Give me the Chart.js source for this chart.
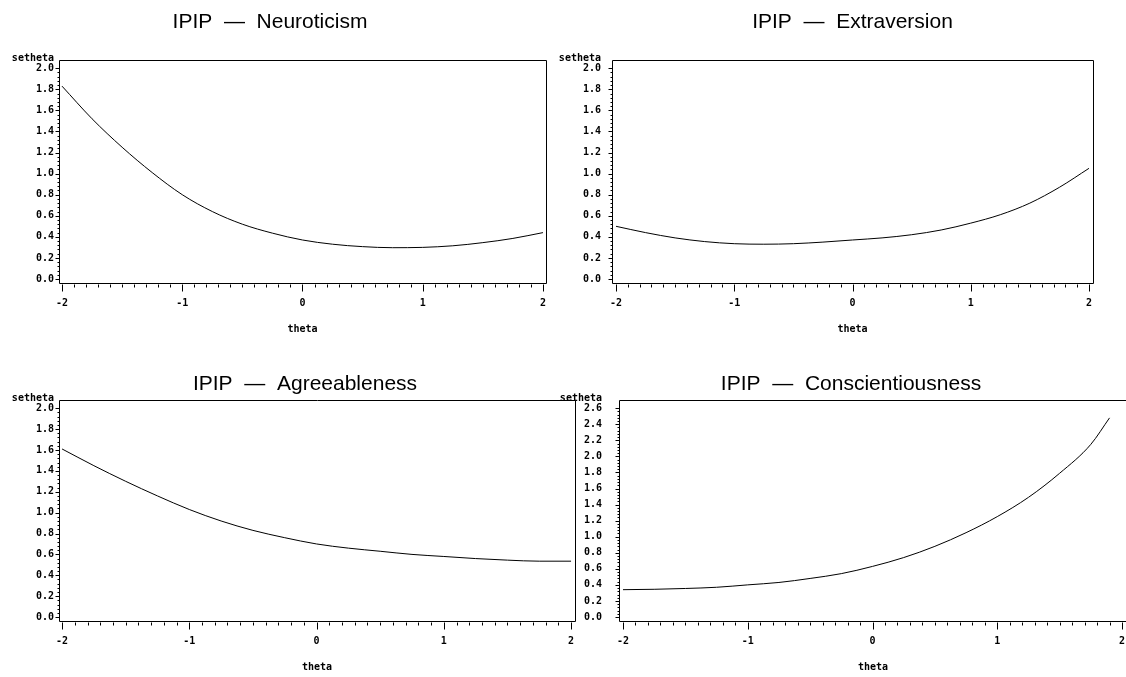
<!DOCTYPE html>
<html>
<head>
<meta charset="utf-8">
<script src="https://cdn.jsdelivr.net/npm/chart.js@4"></script>
<style>
  html, body { margin: 0; padding: 0; width: 1126px; height: 677px; overflow: hidden; background: #fff; }
  canvas { position: absolute; }
</style>
</head>
<body>
<canvas id="c1" width="560" height="345" style="left:-8px;top:0px"></canvas>
<canvas id="c2" width="600" height="345" style="left:550px;top:0px"></canvas>
<canvas id="c3" width="600" height="332" style="left:0px;top:345px"></canvas>
<canvas id="c4" width="580" height="332" style="left:560px;top:345px"></canvas>
<script>
// theta grid
let theta = [-2, -1.75, -1.5, -1.25, -1, -0.75, -0.5, -0.25, 0, 0.25, 0.5, 0.75, 1, 1.25, 1.5, 1.75, 2];
let neuroticism = [1.83, 1.52, 1.25, 1.01, 0.80, 0.64, 0.52, 0.435, 0.37, 0.33, 0.307, 0.297, 0.30, 0.315, 0.345, 0.385, 0.44];
let extraversion = [0.50, 0.44, 0.39, 0.355, 0.335, 0.33, 0.335, 0.35, 0.37, 0.39, 0.42, 0.465, 0.53, 0.61, 0.72, 0.87, 1.05];
let agreeableness = [1.61, 1.45, 1.30, 1.16, 1.03, 0.92, 0.83, 0.76, 0.70, 0.66, 0.63, 0.60, 0.58, 0.56, 0.545, 0.535, 0.535];
let thetaC = [-2, -1.75, -1.5, -1.25, -1, -0.75, -0.5, -0.25, 0, 0.25, 0.5, 0.75, 1, 1.25, 1.5, 1.75, 1.9];
let conscientiousness = [0.34, 0.345, 0.355, 0.37, 0.40, 0.43, 0.48, 0.54, 0.63, 0.74, 0.88, 1.05, 1.25, 1.49, 1.79, 2.15, 2.48];

let thetaTicks = [-2, -1, 0, 1, 2];
let seTicks = [0, 0.2, 0.4, 0.6, 0.8, 1.0, 1.2, 1.4, 1.6, 1.8, 2.0];
let seTicksC = [0, 0.2, 0.4, 0.6, 0.8, 1.0, 1.2, 1.4, 1.6, 1.8, 2.0, 2.2, 2.4, 2.6];

let tickFont = { family: 'DejaVu Sans Mono', size: 10, weight: 'bold' };

// box round the plot, SAS style tick marks and the y label on top
const framePlugin = {
  id: 'frame',
  afterDraw(chart, args, opts) {
    let ctx = chart.ctx;
    let a = chart.chartArea;
    let x = chart.scales.x;
    let y = chart.scales.y;
    let left = Math.round(a.left) + 0.5;
    let top = Math.round(a.top) + 0.5;
    let right = Math.round(a.right) + 0.5;
    let bottom = Math.round(a.bottom) + 0.5;
    ctx.save();
    ctx.strokeStyle = '#000';
    ctx.lineWidth = 1;
    ctx.beginPath();
    ctx.rect(left, top, right - left, bottom - top);
    for (let i = 0; i <= 40; i++) {
      let px = Math.round(x.getPixelForValue(-2 + i * 0.1)) + 0.5;
      let len = i % 10 === 0 ? 7 : 3;
      ctx.moveTo(px, bottom + 1);
      ctx.lineTo(px, bottom + 1 + len);
    }
    let n = Math.round(opts.yTop / 0.04);
    for (let i = 0; i <= n; i++) {
      let py = Math.round(y.getPixelForValue(i * 0.04)) + 0.5;
      let len = i % 5 === 0 ? 4 : 2;
      ctx.moveTo(left, py);
      ctx.lineTo(left - len, py);
    }
    ctx.stroke();
    ctx.fillStyle = '#000';
    ctx.font = 'bold 10px "DejaVu Sans Mono"';
    ctx.textAlign = 'right';
    ctx.textBaseline = 'bottom';
    ctx.fillText(opts.yLabel, a.left - opts.gap, a.top + 3);
    ctx.restore();
  }
};

// c: canvas left and width, frame edges and title centre in page pixels
// (titleX null = title centred over the frame)
function makeChart(id, title, xs, ys, c) {
  let points = xs.map((v, i) => ({ x: v, y: ys[i] }));
  let padLeft = c.titleX == null ? 0 : 2 * c.titleX - c.left - c.frameRight;
  let yWidth = c.frameLeft - c.left - padLeft;
  let padRight = c.left + c.width - c.frameRight;
  new Chart(document.getElementById(id), {
    type: 'line',
    data: {
      datasets: [{
        data: points,
        borderColor: '#000',
        borderWidth: 1,
        pointRadius: 0,
        cubicInterpolationMode: 'monotone',
        fill: false
      }]
    },
    options: {
      responsive: false,
      animation: false,
      layout: { padding: { left: padLeft, right: padRight, top: 0, bottom: c.padBottom } },
      plugins: {
        legend: { display: false },
        tooltip: { enabled: false },
        title: {
          display: true,
          fullSize: c.titleX != null,
          text: title,
          color: '#000',
          font: { family: 'Liberation Sans', size: 21, weight: 'normal', lineHeight: 1.2 },
          padding: { top: c.titleTop, bottom: c.titleBottom }
        },
        frame: { yLabel: 'setheta', yTop: c.yTicks[c.yTicks.length - 1], gap: c.gap }
      },
      scales: {
        x: {
          type: 'linear',
          min: c.xMin,
          max: c.xMax,
          afterBuildTicks: s => { s.ticks = thetaTicks.map(v => ({ value: v })); },
          afterFit: s => { s.height = 55; },
          grid: { drawOnChartArea: false, color: 'rgba(0,0,0,0)', tickLength: 8 },
          border: { display: false },
          ticks: { color: '#000', font: tickFont, padding: 6, autoSkip: false, maxRotation: 0, callback: v => String(v) },
          title: { display: true, text: 'theta', color: '#000', font: tickFont, padding: { top: 0, bottom: 3 } }
        },
        y: {
          type: 'linear',
          min: c.yMin,
          max: c.yMax,
          afterBuildTicks: s => { s.ticks = c.yTicks.map(v => ({ value: v })); },
          afterFit: s => { s.width = yWidth; },
          grid: { drawOnChartArea: false, color: 'rgba(0,0,0,0)', tickLength: 4 },
          border: { display: false },
          ticks: { color: '#000', font: tickFont, padding: c.gap - 4, autoSkip: false, callback: v => v.toFixed(1) }
        }
      }
    },
    plugins: [framePlugin]
  });
}

makeChart('c1', 'IPIP  \u2014  Neuroticism', theta, neuroticism, {
  left: -8, width: 560, frameLeft: 59, frameRight: 547, titleX: 270, gap: 5,
  xMin: -2.025, xMax: 2.025, yMin: -0.038, yMax: 2.076, yTicks: seTicks,
  padBottom: 7, titleTop: 10, titleBottom: 25
});
makeChart('c2', 'IPIP  \u2014  Extraversion', theta, extraversion, {
  left: 550, width: 600, frameLeft: 612, frameRight: 1093, titleX: null, gap: 11,
  xMin: -2.034, xMax: 2.034, yMin: -0.038, yMax: 2.076, yTicks: seTicks,
  padBottom: 7, titleTop: 10, titleBottom: 25
});
makeChart('c3', 'IPIP  \u2014  Agreeableness', theta, agreeableness, {
  left: 0, width: 600, frameLeft: 59, frameRight: 575, titleX: 305, gap: 5,
  xMin: -2.024, xMax: 2.031, yMin: -0.038, yMax: 2.077, yTicks: seTicks,
  padBottom: 1, titleTop: 27, titleBottom: 3
});
makeChart('c4', 'IPIP  \u2014  Conscientiousness', thetaC, conscientiousness, {
  left: 560, width: 580, frameLeft: 619, frameRight: 1127, titleX: 851, gap: 17,
  xMin: -2.032, xMax: 2.04, yMin: -0.05, yMax: 2.7, yTicks: seTicksC,
  padBottom: 1, titleTop: 27, titleBottom: 3
});
</script>
</body>
</html>
